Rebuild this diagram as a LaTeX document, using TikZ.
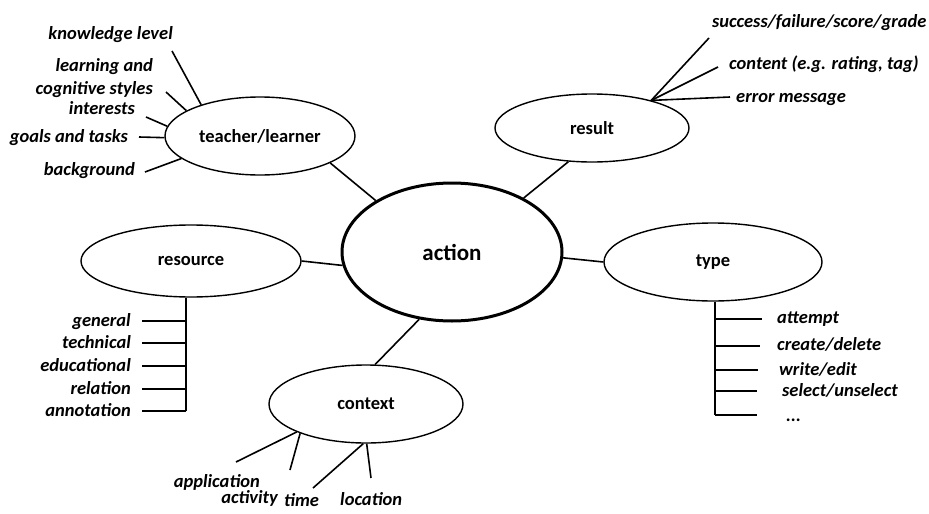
\documentclass[tikz,border=0pt]{standalone}
\usepackage{fontspec}
\setmainfont{Carlito}
\usetikzlibrary{shapes.geometric}
\begin{document}
\begin{tikzpicture}[x=1pt,y=-1pt,
  ell/.style={draw, ellipse, inner sep=0pt, line width=1.4pt, font=\fontsize{18.5}{20}\selectfont\bfseries},
  lab/.style={inner sep=0pt, yshift=-3pt, font=\fontsize{18.5}{23}\selectfont\bfseries\itshape},
  con/.style={line width=1.6pt}]
\useasboundingbox (0,0) rectangle (929,514);
% main ellipses
\node[ell, line width=3pt, minimum width=220pt, minimum height=138pt, font=\fontsize{23}{25}\selectfont\bfseries] (A) at (452,252) {action};
\node[ell, minimum width=190pt, minimum height=78pt] (T) at (260,136) {teacher/learner};
\node[ell, minimum width=194pt, minimum height=68pt] (R) at (592,128) {result};
\node[ell, minimum width=220pt, minimum height=72pt] (S) at (191,261) {resource};
\node[ell, minimum width=218pt, minimum height=78pt] (Y) at (713,262) {type};
\node[ell, minimum width=194pt, minimum height=78pt] (C) at (366,404) {context};
% connections to action
\draw[con] (T.-21) -- (A.146);
\draw[con] (R.-125) -- (A.37);
\draw[con] (S.0) -- (A.187);
\draw[con] (A.-3) -- (Y.180);
\draw[con] (A.-116) -- (C.77);
% teacher/learner labels
\node[lab, anchor=mid east] (kl) at (173,34) {knowledge level};
\node[lab, anchor=east, align=right] (lc) at (153,75) {learning and\\cognitive styles};
\node[lab, anchor=mid east] (in) at (135,109) {interests};
\node[lab, anchor=mid east] (gt) at (128,137) {goals and tasks};
\node[lab, anchor=mid east] (bg) at (135,170) {background};
\coordinate (kle) at (172,51);
\coordinate (lce) at (166,92);
\coordinate (ine) at (146,117);
\coordinate (gte) at (139,137);
\coordinate (bge) at (145,172);
\draw[con] (kle) -- (T.152);
\draw[con] (lce) -- (T.161);
\draw[con] (ine) -- (T.174);
\draw[con] (gte) -- (T.181);
\draw[con] (bge) -- (T.196);
% result labels
\node[lab, anchor=mid west] (sf) at (712,22) {success/failure/score/grade};
\node[lab, anchor=mid west] (ct) at (729,64) {content (e.g. rating, tag)};
\node[lab, anchor=mid west] (em) at (736,97) {error message};
\coordinate (sfe) at (709,38);
\coordinate (cte) at (718,67);
\coordinate (eme) at (730,97);
\draw[con] (sfe) -- (R.25);
\draw[con] (cte) -- (R.25);
\draw[con] (eme) -- (R.25);
% resource tree
\coordinate (sb) at (186,411);
\draw[con] (S.south -| sb) -- (sb);
\coordinate (r1) at (142,321);
\coordinate (r2) at (142,343);
\coordinate (r3) at (142,366);
\coordinate (r4) at (142,389);
\coordinate (r5) at (142,411);
\foreach \i in {1,...,5} {\draw[con] (r\i) -- (r\i -| sb);}
\node[lab, anchor=mid east] (gen) at (131,321) {general};
\node[lab, anchor=mid east] (tec) at (131,343) {technical};
\node[lab, anchor=mid east] (edu) at (131,366) {educational};
\node[lab, anchor=mid east] (rel) at (131,389) {relation};
\node[lab, anchor=mid east] (ann) at (131,411) {annotation};
% type tree
\coordinate (yb) at (715,415);
\draw[con] (Y.south -| yb) -- (yb);
\coordinate (t1) at (762,319);
\coordinate (t2) at (760,346);
\coordinate (t3) at (758,370);
\coordinate (t4) at (757,391);
\coordinate (t5) at (757,415);
\foreach \i in {1,...,5} {\draw[con] (t\i -| yb) -- (t\i);}
\node[lab, anchor=mid west] (att) at (777,318) {attempt};
\node[lab, anchor=mid west] (cd) at (777,345) {create/delete};
\node[lab, anchor=mid west] (we) at (779,370) {write/edit};
\node[lab, anchor=mid west] (su) at (782,391) {select/unselect};
\node[lab, anchor=base west] (dots) at (786,418) {...};
% context spokes
\coordinate (ape) at (236,462);
\coordinate (ace) at (290,470);
\coordinate (tie) at (313,488);
\coordinate (loe) at (371,478);
\draw[con] (ape) -- (C.202);
\draw[con] (ace) -- (C.204);
\draw[con] (tie) -- (C.-94);
\draw[con] (loe) -- (C.-89);
\node[lab, anchor=mid east] (app) at (260,482) {application};
\node[lab, anchor=mid east] (act) at (278,498) {activity};
\node[lab, anchor=mid west] (tim) at (284,501) {time};
\node[lab, anchor=mid west] (loc) at (340,500) {location};
\end{tikzpicture}
\end{document}
